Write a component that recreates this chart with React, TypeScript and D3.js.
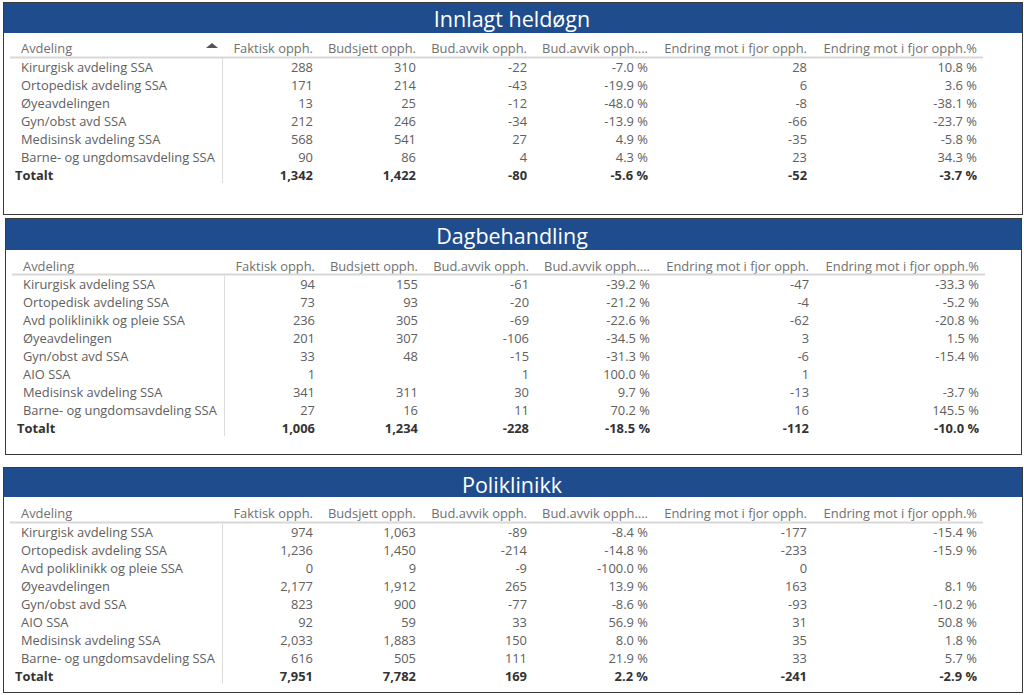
import React from "react";
import * as d3 from "d3";

const columns = ["Faktisk opph.", "Budsjett opph.", "Bud.avvik opph.", "Bud.avvik opph....", "Endring mot i fjor opph.", "Endring mot i fjor opph.%"];
const pctCols = [false, false, false, true, false, true];

const innlagtNames = ["Kirurgisk avdeling SSA", "Ortopedisk avdeling SSA", "Øyeavdelingen", "Gyn/obst avd SSA", "Medisinsk avdeling SSA", "Barne- og ungdomsavdeling SSA"];
const innlagtValues: (number | null)[][] = [
  [288, 310, -22, -7.0, 28, 10.8],
  [171, 214, -43, -19.9, 6, 3.6],
  [13, 25, -12, -48.0, -8, -38.1],
  [212, 246, -34, -13.9, -66, -23.7],
  [568, 541, 27, 4.9, -35, -5.8],
  [90, 86, 4, 4.3, 23, 34.3],
];
const innlagtTotal: (number | null)[] = [1342, 1422, -80, -5.6, -52, -3.7];

const dagNames = ["Kirurgisk avdeling SSA", "Ortopedisk avdeling SSA", "Avd poliklinikk og pleie SSA", "Øyeavdelingen", "Gyn/obst avd SSA", "AIO SSA", "Medisinsk avdeling SSA", "Barne- og ungdomsavdeling SSA"];
const dagValues: (number | null)[][] = [
  [94, 155, -61, -39.2, -47, -33.3],
  [73, 93, -20, -21.2, -4, -5.2],
  [236, 305, -69, -22.6, -62, -20.8],
  [201, 307, -106, -34.5, 3, 1.5],
  [33, 48, -15, -31.3, -6, -15.4],
  [1, null, 1, 100.0, 1, null],
  [341, 311, 30, 9.7, -13, -3.7],
  [27, 16, 11, 70.2, 16, 145.5],
];
const dagTotal: (number | null)[] = [1006, 1234, -228, -18.5, -112, -10.0];

const poliNames = ["Kirurgisk avdeling SSA", "Ortopedisk avdeling SSA", "Avd poliklinikk og pleie SSA", "Øyeavdelingen", "Gyn/obst avd SSA", "AIO SSA", "Medisinsk avdeling SSA", "Barne- og ungdomsavdeling SSA"];
const poliValues: (number | null)[][] = [
  [974, 1063, -89, -8.4, -177, -15.4],
  [1236, 1450, -214, -14.8, -233, -15.9],
  [0, 9, -9, -100.0, 0, null],
  [2177, 1912, 265, 13.9, 163, 8.1],
  [823, 900, -77, -8.6, -93, -10.2],
  [92, 59, 33, 56.9, 31, 50.8],
  [2033, 1883, 150, 8.0, 35, 1.8],
  [616, 505, 111, 21.9, 33, 5.7],
];
const poliTotal: (number | null)[] = [7951, 7782, 169, 2.2, -241, -2.9];

const titles = ["Innlagt heldøgn", "Dagbehandling", "Poliklinikk"];

const FONT = "'Open Sans', 'Noto Sans', sans-serif";
const FS = 12.9;
const BLUE = "#1f4c8c";
const hy = (s: string) => s.replace(/\u2212/g, "-");
const fmtInt = (v: number) => hy(d3.format(",.0f")(v));
const fmtPct = (v: number) => hy(d3.format(".1f")(v)) + " %";
const baseEdges = [313, 416, 527, 648, 807, 977];

type PanelSpec = {
  title: string;
  names: string[];
  values: (number | null)[][];
  total: (number | null)[];
  box: [number, number, number, number];
  headBottom: number;
  titleY: number;
  headerY: number;
  lineY: number;
  rowY: number;
  dx: number;
  sortArrow: boolean;
};

const panels: PanelSpec[] = [
  { title: titles[0], names: innlagtNames, values: innlagtValues, total: innlagtTotal, box: [3, 2, 1022, 214], headBottom: 33, titleY: 19, headerY: 48, lineY: 57, rowY: 67, dx: 0, sortArrow: true },
  { title: titles[1], names: dagNames, values: dagValues, total: dagTotal, box: [5, 218, 1021, 454], headBottom: 250, titleY: 236, headerY: 266, lineY: 274, rowY: 284, dx: 2, sortArrow: false },
  { title: titles[2], names: poliNames, values: poliValues, total: poliTotal, box: [3, 467, 1022, 692], headBottom: 497, titleY: 485, headerY: 513, lineY: 522, rowY: 532, dx: 0, sortArrow: false },
];

function Panel({ p }: { p: PanelSpec }) {
  const [x0, y0, x1, y1] = p.box;
  const n = p.names.length;
  const y = d3.scaleLinear().domain([0, 1]).range([p.rowY, p.rowY + 18]);
  const colX = d3.scaleOrdinal<number, number>().domain(d3.range(columns.length)).range(baseEdges.map((e) => e + p.dx));
  const textX = 21 + p.dx;
  const totX = 15 + p.dx;
  const sepX = 222 + p.dx;
  const fmt = (v: number | null, c: number) => (v == null ? "" : pctCols[c] ? fmtPct(v) : fmtInt(v));
  return (
    <g>
      <rect x={x0 + 0.5} y={y0 + 0.5} width={x1 - x0} height={y1 - y0} fill="#fff" stroke="#3a3a3a" strokeWidth={1} />
      <rect x={x0 + 1} y={y0 + 1} width={x1 - x0 - 1} height={p.headBottom - y0 - 1} fill={BLUE} />
      <text x={512} y={p.titleY} dy="0.36em" textAnchor="middle" fill="#fff" fontSize={21.5} fontFamily={FONT}>{p.title}</text>
      <text x={textX} y={p.headerY} dy="0.36em" fill="#707070" fontSize={FS} fontFamily={FONT}>Avdeling</text>
      {p.sortArrow && <path d={`M206,${p.headerY}L212,${p.headerY - 5}L218,${p.headerY}Z`} fill="#555" />}
      {columns.map((c, i) => (
        <text key={c} x={colX(i)} y={p.headerY} dy="0.36em" textAnchor="end" fill="#707070" fontSize={FS} fontFamily={FONT}>{c}</text>
      ))}
      <line x1={10 + p.dx} x2={983 + p.dx} y1={p.lineY + 0.5} y2={p.lineY + 0.5} stroke="#d8d8d8" strokeWidth={2} />
      <line x1={sepX + 0.5} x2={sepX + 0.5} y1={p.lineY + 1} y2={y(n) + 8} stroke="#dcdcdc" strokeWidth={1} />
      {p.names.map((name, r) => (
        <g key={name + r}>
          <text x={textX} y={y(r)} dy="0.36em" fill="#606060" fontSize={FS} fontFamily={FONT}>{name}</text>
          {p.values[r].map((v, c) => (
            <text key={c} x={colX(c)} y={y(r)} dy="0.36em" textAnchor="end" fill="#606060" fontSize={FS} fontFamily={FONT}>{fmt(v, c)}</text>
          ))}
        </g>
      ))}
      <text x={totX} y={y(n)} dy="0.36em" fill="#333" fontWeight="bold" fontSize={FS} fontFamily={FONT}>Totalt</text>
      {p.total.map((v, c) => (
        <text key={c} x={colX(c)} y={y(n)} dy="0.36em" textAnchor="end" fill="#333" fontWeight="bold" fontSize={FS} fontFamily={FONT}>{fmt(v, c)}</text>
      ))}
    </g>
  );
}

export default function App() {
  return (
    <svg width={1024} height={695} style={{ position: "absolute", left: 0, top: 0, background: "#fff" }}>
      {panels.map((p) => (
        <Panel key={p.title} p={p} />
      ))}
    </svg>
  );
}
